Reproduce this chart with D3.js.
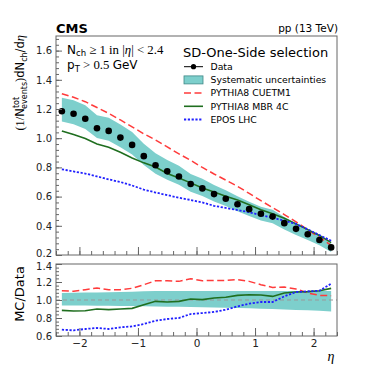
<!DOCTYPE html>
<html>
<head>
<meta charset="utf-8">
<script src="https://cdn.jsdelivr.net/npm/d3@7"></script>
<style>
  html, body { margin: 0; padding: 0; background: #fff; }
  text { font-family: 'DejaVu Sans', sans-serif; }
</style>
</head>
<body>
<div id="chart"></div>
<script>
// bin centres in eta
const eta = [-2.3, -2.1, -1.9, -1.7, -1.5, -1.3, -1.1, -0.9, -0.7, -0.5, -0.3, -0.1,
  0.1, 0.3, 0.5, 0.7, 0.9, 1.1, 1.3, 1.5, 1.7, 1.9, 2.1, 2.3]

const dataVals = [1.185, 1.167, 1.133, 1.068, 1.05, 1.004, 0.954, 0.877, 0.815, 0.773, 0.738, 0.686,
  0.656, 0.617, 0.585, 0.548, 0.514, 0.483, 0.463, 0.418, 0.379, 0.342, 0.303, 0.252]

// relative systematic uncertainty (up / down)
const sysUp = [0.078, 0.08, 0.082, 0.084, 0.086, 0.089, 0.092, 0.096, 0.1, 0.1, 0.1, 0.1,
  0.1, 0.1, 0.1, 0.1, 0.1, 0.1, 0.1, 0.1, 0.1, 0.1, 0.1, 0.1]
const sysDown = [0.06, 0.061, 0.062, 0.063, 0.065, 0.066, 0.068, 0.07, 0.072, 0.074, 0.076, 0.078,
  0.08, 0.082, 0.085, 0.088, 0.092, 0.096, 0.1, 0.105, 0.11, 0.115, 0.12, 0.127]

const cuetm1 = [1.305, 1.28, 1.25, 1.21, 1.17, 1.125, 1.078, 1.03, 0.988, 0.94, 0.893, 0.848,
  0.8, 0.755, 0.713, 0.67, 0.622, 0.572, 0.525, 0.477, 0.427, 0.373, 0.32, 0.266]
const mbr4c = [1.049, 1.025, 0.998, 0.961, 0.938, 0.904, 0.865, 0.831, 0.803, 0.758, 0.727, 0.694,
  0.659, 0.631, 0.603, 0.576, 0.544, 0.51, 0.482, 0.451, 0.413, 0.374, 0.334, 0.285]
const epos = [0.787, 0.772, 0.758, 0.738, 0.718, 0.7, 0.676, 0.648, 0.628, 0.61, 0.592, 0.577,
  0.56, 0.537, 0.522, 0.508, 0.493, 0.473, 0.455, 0.435, 0.413, 0.376, 0.336, 0.298]

// MC / Data ratios
const ratioCuetm1 = [1.103, 1.096, 1.115, 1.133, 1.115, 1.115, 1.13, 1.17, 1.214, 1.214, 1.207, 1.237,
  1.214, 1.218, 1.218, 1.226, 1.207, 1.17, 1.14, 1.144, 1.122, 1.078, 1.051, 1.048]
const ratioMbr4c = [0.885, 0.878, 0.881, 0.9, 0.893, 0.9, 0.907, 0.948, 0.985, 0.978, 0.985, 1.011,
  1.004, 1.022, 1.03, 1.051, 1.059, 1.055, 1.04, 1.078, 1.089, 1.093, 1.103, 1.129]
const ratioEpos = [0.67, 0.663, 0.678, 0.689, 0.678, 0.696, 0.707, 0.733, 0.77, 0.789, 0.8, 0.844,
  0.855, 0.867, 0.892, 0.929, 0.959, 0.978, 0.978, 1.04, 1.089, 1.096, 1.103, 1.181]

const yTicks = [0.2, 0.4, 0.6, 0.8, 1.0, 1.2, 1.4, 1.6]
const rTicks = [0.6, 0.8, 1.0, 1.2, 1.4]
const xTicks = [-2, -1, 0, 1, 2]

const colors = { band: '#7dcfcc', red: '#ff3b3b', green: '#1f6e1f', blue: '#2020ff', frame: '#666' }

const W = 374
const H = 374
const left = 56
const right = 337
const top1 = 36
const bot1 = 255
const top2 = 264
const bot2 = 336

const svg = d3.select('#chart').append('svg').attr('width', W).attr('height', H)

const x = d3.scaleLinear().domain([-2.4, 2.4]).range([left, right])
const y = d3.scaleLinear().domain([0.2, 1.7]).range([bot1, top1])
const yr = d3.scaleLinear().domain([0.6, 1.4]).range([bot2, top2])

const idx = d3.range(eta.length)

// ---- bands
svg.append('path')
  .attr('d', d3.area().x((i) => x(eta[i])).y0((i) => y(dataVals[i] * (1 - sysDown[i]))).y1((i) => y(dataVals[i] * (1 + sysUp[i])))(idx))
  .attr('fill', colors.band)

svg.append('path')
  .attr('d', d3.area().x((i) => x(eta[i])).y0((i) => yr(1 - sysDown[i])).y1((i) => yr(1 + sysUp[i]))(idx))
  .attr('fill', colors.band)

// dashed unity line
svg.append('line')
  .attr('x1', left).attr('x2', right).attr('y1', yr(1)).attr('y2', yr(1))
  .attr('stroke', '#999').attr('stroke-width', 1).attr('stroke-dasharray', '4,3')

const models = [
  { name: 'PYTHIA8 CUETM1', vals: cuetm1, ratio: ratioCuetm1, color: colors.red, dash: '7,3.5', w: 1.5 },
  { name: 'PYTHIA8 MBR 4C', vals: mbr4c, ratio: ratioMbr4c, color: colors.green, dash: null, w: 1.6 },
  { name: 'EPOS LHC', vals: epos, ratio: ratioEpos, color: colors.blue, dash: '2.2,1.6', w: 1.8 },
]

models.forEach((m) => {
  svg.append('path')
    .attr('d', d3.line().x((i) => x(eta[i])).y((i) => y(m.vals[i]))(idx))
    .attr('fill', 'none').attr('stroke', m.color).attr('stroke-width', m.w)
    .attr('stroke-dasharray', m.dash)
  svg.append('path')
    .attr('d', d3.line().x((i) => x(eta[i])).y((i) => yr(m.ratio[i]))(idx))
    .attr('fill', 'none').attr('stroke', m.color).attr('stroke-width', m.w)
    .attr('stroke-dasharray', m.dash)
})

// data points
svg.selectAll('circle.pt')
  .data(idx)
  .enter()
  .append('circle')
  .attr('class', 'pt')
  .attr('cx', (i) => x(eta[i]))
  .attr('cy', (i) => y(dataVals[i]))
  .attr('r', 3.3)
  .attr('fill', '#000')

// ---- axes
const styleAxis = (size) => (g) => {
  g.select('.domain').remove()
  g.selectAll('line').attr('stroke', colors.frame)
  g.selectAll('text').attr('fill', '#222').style('font-size', size)
}

const minor = (lo, hi, step) => d3.range(Math.round((hi - lo) / step) + 1).map((k) => +(lo + k * step).toFixed(3))

// top panel y
svg.append('g').attr('transform', `translate(${left},0)`)
  .call(d3.axisLeft(y).tickValues(minor(0.2, 1.68, 0.04)).tickSize(-3).tickFormat(''))
  .call(styleAxis('10px'))
svg.append('g').attr('transform', `translate(${left},0)`)
  .call(d3.axisLeft(y).tickValues(yTicks).tickSize(-6).tickPadding(4).tickFormat(d3.format('.1f')))
  .call(styleAxis('10px'))
  .call((g) => g.selectAll('.tick').filter((d) => d === 0.2).select('text').attr('dy', '0.1em'))

// top panel x (no labels)
svg.append('g').attr('transform', `translate(0,${bot1})`)
  .call(d3.axisBottom(x).tickValues(minor(-2.4, 2.4, 0.2)).tickSize(-4).tickFormat(''))
  .call(styleAxis('10px'))
svg.append('g').attr('transform', `translate(0,${bot1})`)
  .call(d3.axisBottom(x).tickValues(xTicks).tickSize(-8).tickFormat(''))
  .call(styleAxis('10px'))

// ratio y
svg.append('g').attr('transform', `translate(${left},0)`)
  .call(d3.axisLeft(yr).tickValues(minor(0.6, 1.4, 0.04)).tickSize(-3).tickFormat(''))
  .call(styleAxis('10px'))
svg.append('g').attr('transform', `translate(${left},0)`)
  .call(d3.axisLeft(yr).tickValues(rTicks).tickSize(-6).tickPadding(4).tickFormat(d3.format('.1f')))
  .call(styleAxis('10px'))
  .call((g) => g.selectAll('.tick').filter((d) => d === 1.4).select('text').attr('dy', '0.55em'))

// ratio x
svg.append('g').attr('transform', `translate(0,${bot2})`)
  .call(d3.axisBottom(x).tickValues(minor(-2.4, 2.4, 0.2)).tickSize(-4).tickFormat(''))
  .call(styleAxis('10.5px'))
svg.append('g').attr('transform', `translate(0,${bot2})`)
  .call(d3.axisBottom(x).tickValues(xTicks).tickSize(-8).tickPadding(4).tickFormat((d) => (d < 0 ? '\u2212' + Math.abs(d) : d)))
  .call(styleAxis('10.5px'))

// frames
svg.append('rect').attr('x', left).attr('y', top1).attr('width', right - left).attr('height', bot1 - top1)
  .attr('fill', 'none').attr('stroke', colors.frame).attr('stroke-width', 1)
svg.append('rect').attr('x', left).attr('y', top2).attr('width', right - left).attr('height', bot2 - top2)
  .attr('fill', 'none').attr('stroke', colors.frame).attr('stroke-width', 1)

// ---- header texts
svg.append('text').attr('x', left).attr('y', 33).text('CMS')
  .style('font-weight', 'bold').style('font-size', '13px').attr('fill', '#000')
svg.append('text').attr('x', right + 1).attr('y', 32).attr('text-anchor', 'end').text('pp (13 TeV)')
  .style('font-size', '10.5px').attr('fill', '#000')

const serif = "'Liberation Serif', 'DejaVu Serif', serif"

const t1 = svg.append('text').attr('x', 67).attr('y', 54).style('font-size', '12px').attr('fill', '#000')
t1.append('tspan').text('N')
t1.append('tspan').text('ch').attr('dy', 2).style('font-size', '8.5px')
t1.append('tspan').text(' \u2265 1 in |').attr('dy', -2).style('font-family', serif).style('font-size', '12.8px')
t1.append('tspan').text('\u03b7').style('font-family', serif).style('font-style', 'italic').style('font-size', '12.8px')
t1.append('tspan').text('| < 2.4').style('font-family', serif).style('font-size', '12.8px')

const t2 = svg.append('text').attr('x', 67).attr('y', 69).style('font-size', '12px').attr('fill', '#000')
t2.append('tspan').text('p')
t2.append('tspan').text('T').attr('dy', 3).style('font-size', '8.5px')
t2.append('tspan').text(' > 0.5 ').attr('dy', -3).style('font-family', serif).style('font-size', '12.8px')
t2.append('tspan').text('GeV')

// ---- legend
svg.append('text').attr('x', 183).attr('y', 56.5).text('SD-One-Side selection')
  .style('font-size', '13px').attr('fill', '#000')

const legX0 = 184
const legX1 = 203
const legText = 210.5
const legRows = [
  { label: 'Data', kind: 'data' },
  { label: 'Systematic uncertainties', kind: 'band' },
  { label: models[0].name, kind: 'line', m: models[0] },
  { label: models[1].name, kind: 'line', m: models[1] },
  { label: models[2].name, kind: 'line', m: models[2] },
]
legRows.forEach((r, k) => {
  const cy = 66.7 + k * 13.2
  if (r.kind === 'data') {
    svg.append('line').attr('x1', legX0).attr('x2', legX1).attr('y1', cy).attr('y2', cy)
      .attr('stroke', '#000').attr('stroke-width', 1)
    svg.append('circle').attr('cx', (legX0 + legX1) / 2).attr('cy', cy).attr('r', 2.6).attr('fill', '#000')
  } else if (r.kind === 'band') {
    svg.append('rect').attr('x', legX0).attr('y', cy - 4).attr('width', legX1 - legX0).attr('height', 8)
      .attr('fill', colors.band).attr('stroke', '#3f8886').attr('stroke-width', 0.8)
  } else {
    svg.append('line').attr('x1', legX0).attr('x2', legX1).attr('y1', cy).attr('y2', cy)
      .attr('stroke', r.m.color).attr('stroke-width', r.m.w).attr('stroke-dasharray', r.m.dash)
  }
  svg.append('text').attr('x', legText).attr('y', cy + 3.3).text(r.label)
    .style('font-size', '9.3px').attr('fill', '#000')
})

// ---- axis titles
const yl = svg.append('g').attr('transform', 'translate(24,35) rotate(-90)')
const ylt = yl.append('text').attr('text-anchor', 'end').style('font-size', '11.5px').attr('fill', '#000')
ylt.append('tspan').text('(').style('font-family', serif).style('font-size', '12.5px')
ylt.append('tspan').text('1/').style('font-family', serif).style('font-size', '12.5px')
ylt.append('tspan').text('N')
ylt.append('tspan').text('tot').attr('dy', -5).style('font-size', '8px')
ylt.append('tspan').text('events').attr('dx', -12).attr('dy', 8).style('font-size', '8px')
ylt.append('tspan').text(')').attr('dy', -3).style('font-family', serif).style('font-size', '12.5px')
ylt.append('tspan').text('dN')
ylt.append('tspan').text('ch').attr('dy', 3).style('font-size', '8px')
ylt.append('tspan').text('/d').attr('dy', -3)
ylt.append('tspan').text('\u03b7').style('font-family', serif).style('font-style', 'italic').style('font-size', '12.5px')

svg.append('text').attr('transform', 'translate(24,294) rotate(-90)').attr('text-anchor', 'middle')
  .text('MC/Data').style('font-size', '13px').attr('fill', '#000')

svg.append('text').attr('x', 331).attr('y', 361).attr('text-anchor', 'middle').text('\u03b7')
  .style('font-family', serif).style('font-style', 'italic').style('font-size', '14px').attr('fill', '#000')
</script>
</body>
</html>
